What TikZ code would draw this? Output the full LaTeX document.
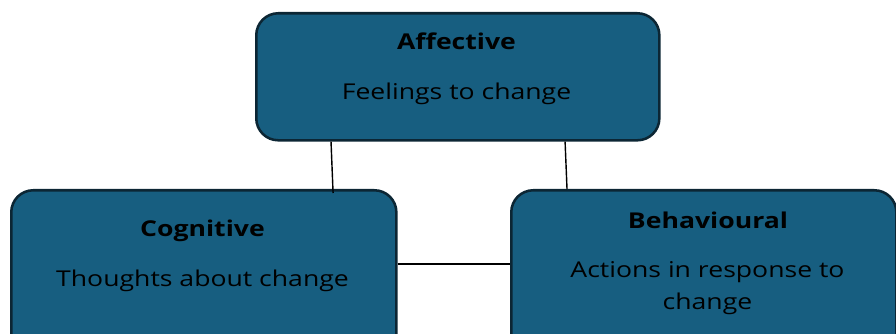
\documentclass[tikz,border=0pt]{standalone}
\usepackage{fontspec}
\setmainfont[FakeStretch = 1.22]{Open Sans}
\usetikzlibrary{positioning}

\definecolor{boxblue}{RGB}{23,94,128}
\definecolor{boxedge}{RGB}{12,38,52}

\begin{document}
\begin{tikzpicture}
    [
        x = 0.025cm, y = -0.025cm,
        areabox/.style = {draw = boxedge, fill = boxblue, line width = 1.8pt,
            rounded corners = 0.55cm, inner sep = 0pt, anchor = north west},
        boxtitle/.style = {font = \fontsize{15.5}{18}\selectfont\bfseries, text = black,
            anchor = base, inner sep = 0pt},
        boxtext/.style = {font = \fontsize{15.5}{23.4}\selectfont, text = black,
            align = center, anchor = base, inner sep = 0pt},
        link/.style = {draw = black, line width = 1pt}
    ]

    \useasboundingbox (0,0) rectangle (896,334);
    \clip (0,0) rectangle (896,334);

    % boxes
    \node[areabox, minimum width = 10.075cm, minimum height = 3.175cm] (aff) at (255,12) {};
    \node[areabox, minimum width = 9.625cm, minimum height = 4.3cm] (cog) at (10,189) {};
    \node[areabox, minimum width = 9.625cm, minimum height = 4.3cm] (beh) at (510,189) {};

    % texts (base of the last line)
    \node[boxtitle] (afftitle) at (456.5,50) {Affective};
    \node[boxtext] (afftext) at (456.5,99.3) {Feelings to change};
    \node[boxtitle] (cogtitle) at (202.5,236.7) {Cognitive};
    \node[boxtext] (cogtext) at (202.5,286.7) {Thoughts about change};
    \node[boxtitle] (behtitle) at (708,228.3) {Behavioural};
    \node[boxtext] (behtext) at (707.5,310) {Actions in response to\\change};

    % links between the boxes
    \draw[link] ([xshift = 1.9cm]aff.south west) -- ([xshift = 8.075cm, yshift = -0.1cm]cog.north west);
    \draw[link] ([xshift = 7.75cm]aff.south west) -- ([xshift = 1.425cm]beh.north west);
    \draw[link] ([yshift = -1.875cm]cog.north east) -- ([yshift = -1.875cm]beh.north west);
\end{tikzpicture}
\end{document}
